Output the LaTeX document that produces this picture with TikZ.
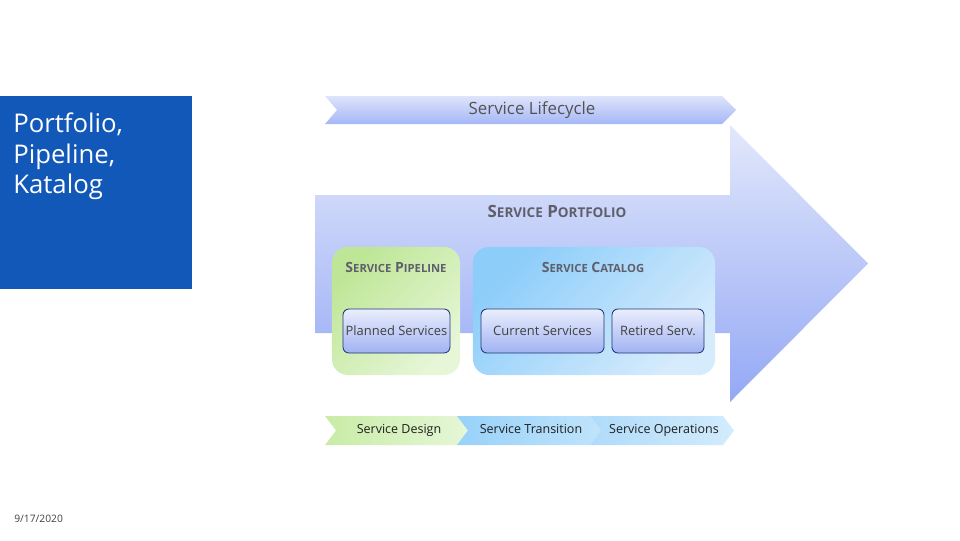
\documentclass[tikz,border=0pt]{standalone}
\usepackage{fontspec}
\setmainfont{Open Sans}
\usepackage{tikz}
\usetikzlibrary{positioning}
\definecolor{topicblue}{RGB}{17,88,184}
\definecolor{arrowtop}{RGB}{226,232,251}
\definecolor{arrowbot}{RGB}{148,168,245}
\definecolor{bannertop}{RGB}{222,228,251}
\definecolor{bannerbot}{RGB}{165,183,246}
\definecolor{pipegreen}{RGB}{190,230,150}
\definecolor{pipelight}{RGB}{230,246,215}
\definecolor{catblue}{RGB}{140,205,250}
\definecolor{catlight}{RGB}{214,235,252}
\definecolor{svctop}{RGB}{234,238,252}
\definecolor{svcbot}{RGB}{160,178,242}
\definecolor{svcline}{RGB}{30,55,120}
\definecolor{hdrgrey}{RGB}{95,95,108}
\definecolor{textgrey}{RGB}{64,64,64}
\definecolor{designA}{RGB}{200,236,166}
\definecolor{designB}{RGB}{230,247,216}
\definecolor{transA}{RGB}{152,209,250}
\definecolor{transB}{RGB}{192,228,251}
\definecolor{opsA}{RGB}{176,219,250}
\definecolor{opsB}{RGB}{210,236,252}
\makeatletter
\newcommand{\capsmall}[1]{{\fontsize{\dimexpr 0.8\dimexpr\f@size pt\relax\relax}{\f@baselineskip}\selectfont #1}}
\makeatother
\tikzset{
  base/.style={font=\fontsize{9.2}{11}\selectfont, align=center, inner sep=0pt, text=textgrey},
  topic/.style={rectangle, fill=topicblue, minimum width=4.8cm, minimum height=4.825cm, inner sep=0pt},
  topictext/.style={font=\fontsize{18.3}{21.6}\selectfont, text=white, align=left, inner sep=0pt},
  hdr/.style={base, font=\bfseries\fontsize{12}{14}\selectfont, text=hdrgrey},
  subhdr/.style={hdr, font=\bfseries\fontsize{10}{12}\selectfont},
  group/.style={rectangle, rounded corners=0.4cm, minimum height=3.2cm, inner sep=0pt},
  svc/.style={base, rectangle, rounded corners=0.15cm, draw=svcline, line width=0.6pt, top color=svctop, bottom color=svcbot, minimum height=1.1cm},
  chevtext/.style={base, font=\fontsize{8.9}{11}\selectfont, text=black!88, text height=6.6pt, text depth=1.9pt},
  datetext/.style={base, font=\fontsize{7.3}{9}\selectfont},
}
\begin{document}
\begin{tikzpicture}[x=0.025cm, y=-0.025cm]
  \useasboundingbox (0,0) rectangle (960,540);
  \node[topic] (topic) at (96,192.5) {};
  \node[topictext, anchor=north west] (title) at (13,113) {Portfolio,\\Pipeline,\\Katalog};
  \node[datetext, anchor=west] (date) at (14,519) {9/17/2020};
  \path[top color=arrowtop, bottom color=arrowbot] (315,195) -- (730,195) -- (730,125) -- (868,263.5) -- (730,402) -- (730,333) -- (315,333) -- cycle;
  \path[top color=bannertop, bottom color=bannerbot] (325,96) -- (722,96) -- (736,110) -- (722,124) -- (325,124) -- (337,110) -- cycle;
  \node[base, font=\fontsize{12}{14}\selectfont, text=textgrey!90] (life) at (532,110) {Service Lifecycle};
  \node[hdr] (port) at (557,211) {S\capsmall{ERVICE} P\capsmall{ORTFOLIO}};
  \node[group, minimum width=3.2cm, top color=pipegreen, bottom color=pipelight, shading angle=45] (pipe) at (396,311) {};
  \node[group, minimum width=6.05cm, top color=catblue, bottom color=catlight, shading angle=45] (cat) at (594,311) {};
  \node[subhdr] (pipehdr) at (396,267) {S\capsmall{ERVICE} P\capsmall{IPELINE}};
  \node[subhdr] (cathdr) at (593,267) {S\capsmall{ERVICE} C\capsmall{ATALOG}};
  \foreach \x/\w/\n/\t in {396.5/2.675/plan/Planned Services, 542.5/3.075/curr/Current Services, 658/2.3/ret/Retired Serv.}{
    \node[svc, minimum width=\w cm] (\n) at (\x,331) {\t};
  }
  \foreach \x/\ca/\cb/\n/\t in {325/designA/designB/design/Service Design, 457/transA/transB/trans/Service Transition, 590/opsA/opsB/ops/Service Operations}{
    \path[left color=\ca, right color=\cb] (\x,416) -- ++(133,0) -- ++(11,14.5) -- ++(-11,14.5) -- ++(-133,0) -- ++(11,-14.5) -- cycle;
    \node[chevtext] (\n) at (\x+74,430.5) {\t};
  }
\end{tikzpicture}
\end{document}
